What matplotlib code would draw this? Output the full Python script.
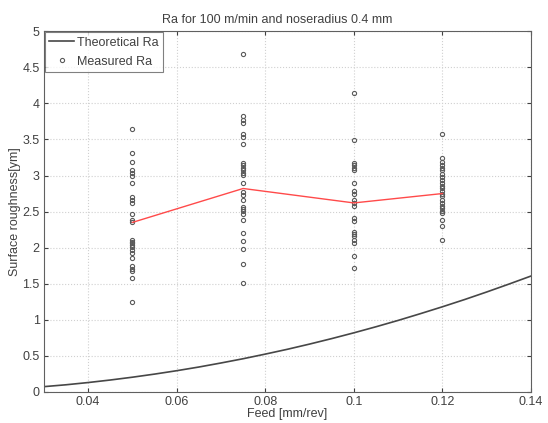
import numpy as np
import matplotlib
matplotlib.use("Agg")
import matplotlib.pyplot as plt

plt.rcParams["font.family"] = ["Liberation Sans", "DejaVu Sans"]

# theoretical Ra curve (feed in mm/rev, Ra in um)
feed_theory = [0.030, 0.035, 0.040, 0.045, 0.050, 0.055, 0.060, 0.065, 0.070,
               0.075, 0.080, 0.085, 0.090, 0.095, 0.100, 0.105, 0.110, 0.115,
               0.120, 0.125, 0.130, 0.135, 0.140]
ra_theory = [0.074, 0.100, 0.131, 0.166, 0.205, 0.248, 0.295, 0.346, 0.402,
             0.461, 0.525, 0.592, 0.664, 0.740, 0.820, 0.904, 0.992, 1.085,
             1.181, 1.281, 1.386, 1.495, 1.607]

# measured Ra per feed level
feed_levels = [0.05, 0.075, 0.1, 0.12]
ra_005 = [3.65, 3.31, 3.19, 3.08, 3.04, 3.00, 2.89, 2.70, 2.66, 2.62, 2.47,
          2.38, 2.35, 2.11, 2.08, 2.06, 2.04, 2.01, 1.97, 1.92, 1.85, 1.74,
          1.70, 1.67, 1.58, 1.25]
ra_0075 = [4.68, 3.82, 3.77, 3.73, 3.57, 3.54, 3.44, 3.18, 3.14, 3.11, 3.07,
           3.04, 3.01, 2.89, 2.77, 2.73, 2.66, 2.57, 2.54, 2.51, 2.47, 2.38,
           2.21, 2.09, 1.98, 1.78, 1.51]
ra_010 = [4.15, 3.49, 3.17, 3.14, 3.11, 3.07, 2.89, 2.78, 2.74, 2.66, 2.62,
          2.58, 2.41, 2.37, 2.22, 2.19, 2.16, 2.10, 2.07, 1.88, 1.72]
ra_012 = [3.58, 3.24, 3.19, 3.15, 3.11, 3.07, 3.02, 2.98, 2.94, 2.90, 2.86,
          2.82, 2.78, 2.75, 2.72, 2.66, 2.62, 2.58, 2.55, 2.51, 2.48, 2.39,
          2.30, 2.10]
ra_mean = [2.35, 2.82, 2.62, 2.75]

measured = [ra_005, ra_0075, ra_010, ra_012]

fig = plt.figure(figsize=(5.48, 4.23), dpi=100)
ax = fig.add_axes([0.080, 0.0733, 0.889, 0.853])

ax.plot(feed_theory, ra_theory, color="#474747", lw=1.2, label="Theoretical Ra")

first = True
for f, vals in zip(feed_levels, measured):
    ax.plot([f] * len(vals), vals, ls="none", marker="o", ms=3.0, mew=0.8,
            mfc="none", mec="#5a5a5a",
            label="Measured Ra" if first else None)
    first = False

ax.plot(feed_levels, ra_mean, color="#ff4a4a", lw=1.0)

ax.set_xlim(0.03, 0.14)
ax.set_ylim(0, 5)
ax.set_xticks([0.04, 0.06, 0.08, 0.1, 0.12, 0.14])
ax.set_xticklabels(["0.04", "0.06", "0.08", "0.1", "0.12", "0.14"])
ax.set_yticks(np.arange(0, 5.01, 0.5))
ax.set_yticklabels(["0", "0.5", "1", "1.5", "2", "2.5", "3", "3.5", "4", "4.5", "5"])
ax.grid(True, color="#d0d0d0", ls=":", lw=0.8)
ax.tick_params(direction="in", length=3, labelsize=9, colors="#404040",
               top=True, right=True, pad=3)
for sp in ax.spines.values():
    sp.set_color("#606060")
    sp.set_linewidth(0.8)

ax.set_xlabel("Feed [mm/rev]", fontsize=9, color="#404040", labelpad=0)
ax.set_ylabel("Surface roughness[ym]", fontsize=9, color="#404040", labelpad=1)
ax.set_title("Ra for 100 m/min and noseradius 0.4 mm", fontsize=9,
             color="#404040", pad=6, x=0.48)

leg = ax.legend(loc="upper left", fontsize=9, frameon=True, fancybox=False,
                borderaxespad=0.1, handlelength=2.0, handletextpad=0.2,
                borderpad=0.35, labelspacing=0.55)
leg.get_frame().set_edgecolor("#606060")
leg.get_frame().set_linewidth(0.8)
for t in leg.get_texts():
    t.set_color("#404040")

fig.savefig("out.png", dpi=100)
